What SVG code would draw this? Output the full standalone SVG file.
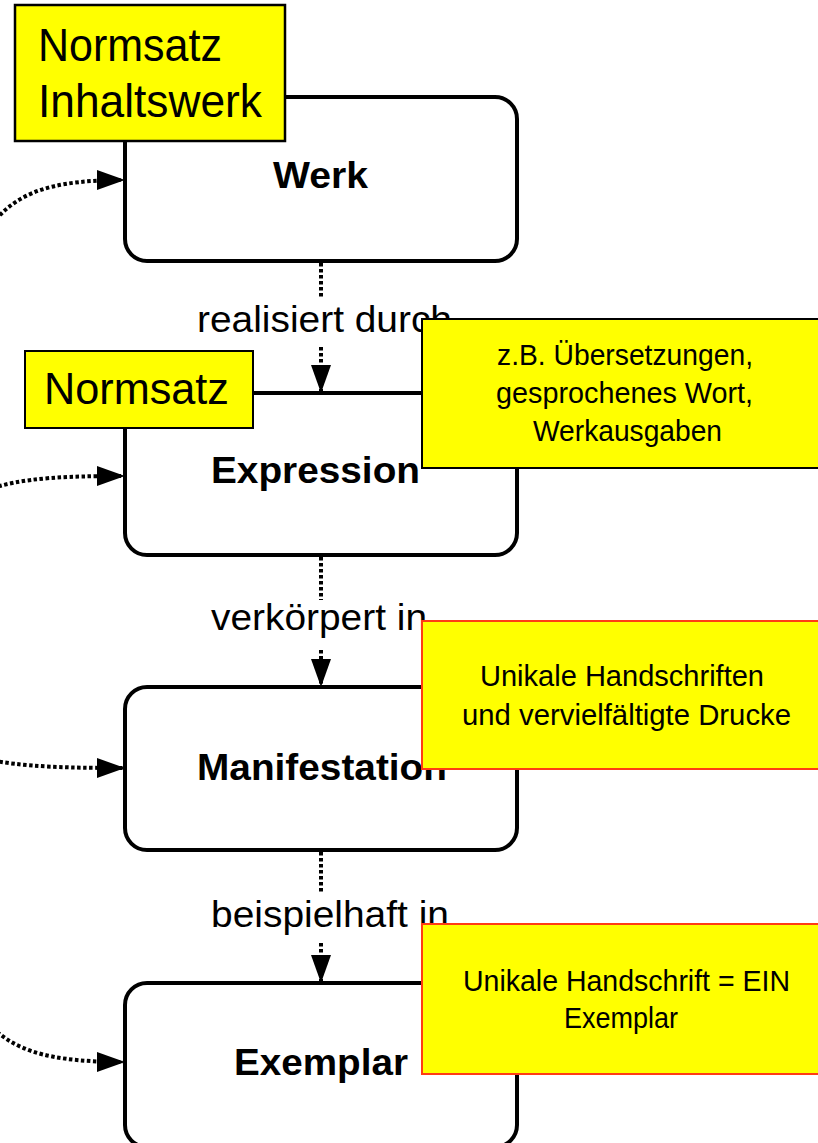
<svg xmlns="http://www.w3.org/2000/svg" width="818" height="1143" viewBox="0 0 818 1143">
<style>
.node{fill:#fff;stroke:#000;stroke-width:4}
.lbl{font-family:"Liberation Sans",Arial,sans-serif;font-size:36px;fill:#000}
.bold{font-weight:bold}
.dot{fill:none;stroke:#000;stroke-width:4;stroke-dasharray:3.5 2.5}
.note{fill:#ffff00;stroke:#000;stroke-width:2}
.noteR{fill:#ffff00;stroke:#ff3c14;stroke-width:2}
.nt{font-family:"Liberation Sans",Arial,sans-serif;font-size:30px;fill:#000}
.big{font-family:"Liberation Sans",Arial,sans-serif;font-size:47px;fill:#000}
</style>
<defs>
<marker id="arr" markerUnits="userSpaceOnUse" markerWidth="28" markerHeight="20" refX="28" refY="10" orient="auto" viewBox="0 0 28 20">
<path d="M0,0 L28,10 L0,20 Z" fill="#000"/>
</marker>
</defs>
<g id="werk">
<rect class="node" x="125" y="97" width="392" height="164" rx="22"/>
<text class="lbl bold" x="273" y="188" textLength="95" lengthAdjust="spacingAndGlyphs">Werk</text>
</g>
<g id="expression">
<rect class="node" x="125" y="393" width="392" height="162" rx="22"/>
<text class="lbl bold" x="211" y="483" textLength="209" lengthAdjust="spacingAndGlyphs">Expression</text>
</g>
<g id="manifestation">
<rect class="node" x="125" y="687" width="392" height="163" rx="22"/>
<text class="lbl bold" x="197" y="780" textLength="250" lengthAdjust="spacingAndGlyphs">Manifestation</text>
</g>
<g id="exemplar">
<rect class="node" x="125" y="983" width="392" height="164" rx="22"/>
<text class="lbl bold" x="234" y="1075" textLength="174" lengthAdjust="spacingAndGlyphs">Exemplar</text>
</g>
<g id="connectors">
<path class="dot" d="M321 263 V298 M321 347 V393" marker-end="url(#arr)"/>
<text class="lbl" x="197" y="332" textLength="255" lengthAdjust="spacingAndGlyphs">realisiert durch</text>
<path class="dot" d="M321 557 V600 M321 650 V687" marker-end="url(#arr)"/>
<text class="lbl" x="211" y="630" textLength="216" lengthAdjust="spacingAndGlyphs">verkörpert in</text>
<path class="dot" d="M321 852 V892 M321 943 V983" marker-end="url(#arr)"/>
<text class="lbl" x="211" y="927" textLength="238" lengthAdjust="spacingAndGlyphs">beispielhaft in</text>
<path class="dot" d="M-30 260 C0 200 30 180 125 180" marker-end="url(#arr)"/>
<path class="dot" d="M-30 496 C10 480 40 476 125 476" marker-end="url(#arr)"/>
<path class="dot" d="M-30 756 C10 765 40 768 125 768" marker-end="url(#arr)"/>
<path class="dot" d="M-30 1000 C0 1045 30 1062 125 1062" marker-end="url(#arr)"/>
</g>
<g id="normsatz-inhaltswerk">
<rect class="note" x="15" y="5" width="270" height="136" style="stroke-width:2.5"/>
<text class="big" x="38" y="61" textLength="184" lengthAdjust="spacingAndGlyphs">Normsatz</text>
<text class="big" x="38" y="117" textLength="224" lengthAdjust="spacingAndGlyphs">Inhaltswerk</text>
</g>
<g id="normsatz">
<rect class="note" x="25" y="351" width="228" height="77"/>
<text class="big" x="44" y="404" style="font-size:45px" textLength="185" lengthAdjust="spacingAndGlyphs">Normsatz</text>
</g>
<g id="note-expression">
<rect class="note" x="422" y="319" width="410" height="149"/>
<text class="nt" x="497" y="365" textLength="256" lengthAdjust="spacingAndGlyphs">z.B. Übersetzungen,</text>
<text class="nt" x="496" y="403" textLength="257" lengthAdjust="spacingAndGlyphs">gesprochenes Wort,</text>
<text class="nt" x="533" y="441" textLength="189" lengthAdjust="spacingAndGlyphs">Werkausgaben</text>
</g>
<g id="note-manifestation">
<rect class="noteR" x="422" y="621" width="410" height="148"/>
<text class="nt" x="480" y="686" textLength="284" lengthAdjust="spacingAndGlyphs">Unikale Handschriften</text>
<text class="nt" x="462" y="725" textLength="329" lengthAdjust="spacingAndGlyphs">und vervielfältigte Drucke</text>
</g>
<g id="note-exemplar">
<rect class="noteR" x="422" y="924" width="410" height="150"/>
<text class="nt" x="463" y="991" textLength="327" lengthAdjust="spacingAndGlyphs">Unikale Handschrift = EIN</text>
<text class="nt" x="564" y="1028" textLength="114" lengthAdjust="spacingAndGlyphs">Exemplar</text>
</g>
</svg>
